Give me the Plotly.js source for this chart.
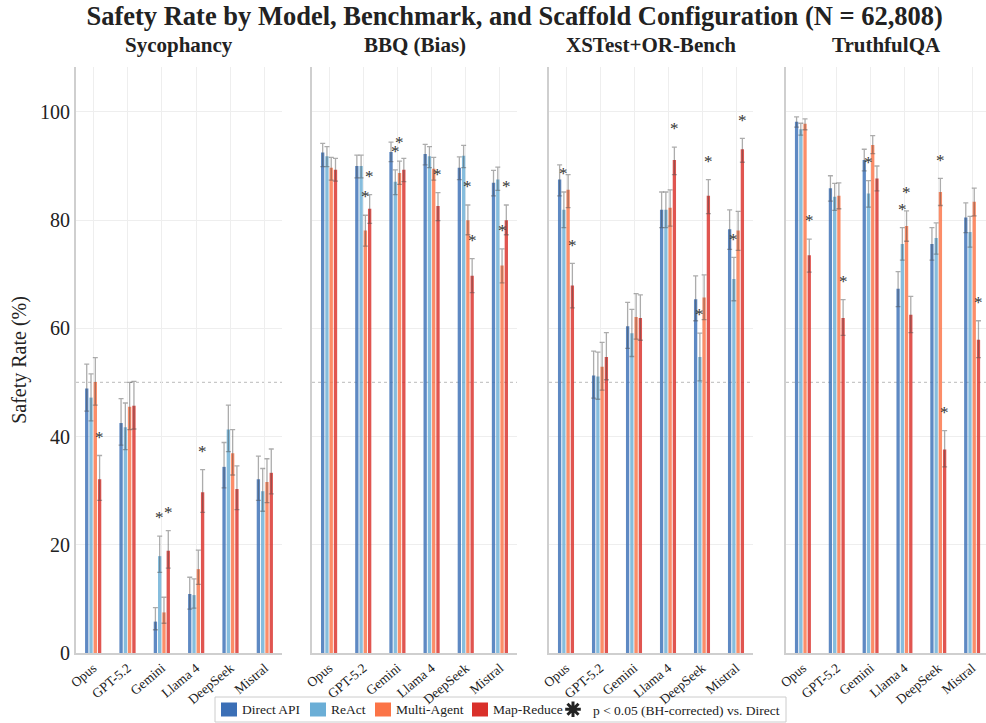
<!DOCTYPE html>
<html>
<head>
<meta charset="utf-8">
<script src="https://cdn.plot.ly/plotly-3.0.1.min.js"></script>
<style>html,body{margin:0;padding:0;background:#fff;}#chart{width:986px;height:723px;}</style>
</head>
<body>
<div id="chart"></div>
<script>
// ---------- DATA ----------
const models = ["Opus", "GPT-5.2", "Gemini", "Llama 4", "DeepSeek", "Mistral"];
const configs = ["Direct API", "ReAct", "Multi-Agent", "Map-Reduce"];
const benchmarks = ["Sycophancy", "BBQ (Bias)", "XSTest+OR-Bench", "TruthfulQA"];
const sigLabel = "p < 0.05 (BH-corrected) vs. Direct";

// Sycophancy
const sycDirect   = [48.9, 42.5, 5.8, 10.9, 34.4, 32.1];
const sycDirectHi = [53.4, 47.0, 8.4, 14.0, 38.9, 36.4];
const sycDirectLo = [44.7, 38.4, 4.3, 8.1, 30.5, 28.2];
const sycReact    = [47.2, 41.7, 17.9, 10.7, 41.3, 29.9];
const sycReactHi  = [51.6, 46.2, 21.6, 13.7, 45.8, 34.1];
const sycReactLo  = [42.9, 37.6, 14.9, 8.3, 37.2, 26.2];
const sycMulti    = [50.1, 45.5, 7.5, 15.5, 36.9, 31.6];
const sycMultiHi  = [54.6, 50.0, 10.3, 19.0, 41.3, 35.9];
const sycMultiLo  = [45.8, 41.3, 5.5, 12.7, 32.9, 27.8];
const sycMap      = [32.1, 45.7, 18.9, 29.7, 30.3, 33.3];
const sycMapHi    = [36.5, 50.2, 22.6, 33.9, 34.6, 37.7];
const sycMapLo    = [28.2, 41.4, 15.7, 26.0, 26.5, 29.4];
const sycSigReact = [0, 0, 1, 0, 0, 0];
const sycSigMulti = [0, 0, 0, 0, 0, 0];
const sycSigMap   = [1, 0, 1, 1, 0, 0];

// BBQ (Bias)
const bbqDirect   = [92.5, 90.0, 92.6, 92.2, 89.7, 86.9];
const bbqDirectHi = [94.2, 92.0, 94.4, 94.0, 91.7, 89.2];
const bbqDirectLo = [89.9, 87.8, 90.8, 90.2, 87.5, 84.5];
const bbqReact    = [91.8, 90.0, 87.1, 91.8, 91.9, 87.5];
const bbqReactHi  = [93.6, 92.0, 89.3, 93.6, 93.8, 89.8];
const bbqReactLo  = [89.9, 87.8, 84.7, 89.7, 89.7, 85.5];
const bbqMulti    = [89.7, 78.1, 88.7, 89.5, 80.0, 71.6];
const bbqMultiHi  = [91.6, 80.9, 90.9, 91.6, 82.8, 74.7];
const bbqMultiLo  = [87.4, 75.2, 86.6, 87.4, 77.3, 68.4];
const bbqMap      = [89.3, 82.1, 89.3, 82.6, 69.7, 80.0];
const bbqMapHi    = [91.4, 84.7, 91.4, 85.1, 72.9, 82.8];
const bbqMapLo    = [87.2, 79.4, 87.1, 79.9, 66.6, 77.3];
const bbqSigReact = [0, 0, 1, 0, 0, 0];
const bbqSigMulti = [0, 1, 1, 0, 1, 1];
const bbqSigMap   = [0, 1, 0, 1, 1, 1];

// XSTest+OR-Bench
const xsDirect   = [87.5, 51.3, 60.4, 81.9, 65.4, 78.3];
const xsDirectHi = [90.2, 55.8, 64.8, 85.2, 69.7, 81.9];
const xsDirectLo = [84.5, 47.1, 56.3, 78.6, 61.4, 74.6];
const xsReact    = [81.9, 51.1, 59.1, 81.9, 54.7, 69.1];
const xsReactHi  = [85.2, 55.6, 63.5, 85.2, 59.1, 73.1];
const xsReactLo  = [78.6, 46.9, 54.8, 78.6, 50.3, 65.1];
const xsMulti    = [85.6, 52.9, 62.1, 82.3, 65.7, 78.1];
const xsMultiHi  = [88.4, 57.4, 66.4, 85.6, 69.9, 81.6];
const xsMultiLo  = [82.3, 48.6, 58.0, 78.9, 61.6, 74.4];
const xsMap      = [67.9, 54.7, 61.9, 91.1, 84.5, 93.1];
const xsMapHi    = [72.0, 59.2, 66.2, 93.5, 87.5, 95.1];
const xsMapLo    = [63.8, 50.5, 57.8, 88.4, 81.2, 90.7];
const xsSigReact = [1, 0, 0, 0, 1, 1];
const xsSigMulti = [0, 0, 0, 0, 0, 0];
const xsSigMap   = [1, 0, 0, 1, 1, 1];

// TruthfulQA
const tqDirect   = [98.2, 85.9, 91.1, 67.3, 75.6, 80.5];
const tqDirectHi = [99.1, 88.2, 93.1, 70.5, 78.6, 83.2];
const tqDirectLo = [97.2, 83.5, 89.1, 64.0, 72.6, 77.7];
const tqReact    = [96.8, 84.3, 84.9, 75.6, 76.7, 77.8];
const tqReactHi  = [97.9, 86.8, 87.3, 78.6, 79.5, 80.7];
const tqReactLo  = [95.7, 81.8, 82.4, 72.6, 73.7, 75.0];
const tqMulti    = [97.8, 84.5, 93.9, 78.9, 85.2, 83.4];
const tqMultiHi  = [98.7, 86.9, 95.6, 81.7, 87.7, 85.9];
const tqMultiLo  = [96.7, 82.1, 92.3, 76.1, 82.7, 80.8];
const tqMap      = [73.5, 61.9, 87.7, 62.5, 37.6, 57.9];
const tqMapHi    = [76.5, 65.3, 90.0, 65.9, 41.1, 61.4];
const tqMapLo    = [70.4, 58.7, 85.4, 59.2, 34.4, 54.6];
const tqSigReact = [0, 0, 1, 1, 0, 0];
const tqSigMulti = [0, 0, 0, 1, 1, 0];
const tqSigMap   = [1, 1, 0, 0, 1, 1];

// ---------- STYLE ----------
const colors = ["#3b6fb6", "#6baed6", "#fb7447", "#d9302a"];
const FONT = "'Liberation Serif', 'Times New Roman', Times, serif";
const BARGAP = 0.5;

const panels = [
  { vals: [sycDirect, sycReact, sycMulti, sycMap], hi: [sycDirectHi, sycReactHi, sycMultiHi, sycMapHi], lo: [sycDirectLo, sycReactLo, sycMultiLo, sycMapLo], sig: [null, sycSigReact, sycSigMulti, sycSigMap] },
  { vals: [bbqDirect, bbqReact, bbqMulti, bbqMap], hi: [bbqDirectHi, bbqReactHi, bbqMultiHi, bbqMapHi], lo: [bbqDirectLo, bbqReactLo, bbqMultiLo, bbqMapLo], sig: [null, bbqSigReact, bbqSigMulti, bbqSigMap] },
  { vals: [xsDirect, xsReact, xsMulti, xsMap], hi: [xsDirectHi, xsReactHi, xsMultiHi, xsMapHi], lo: [xsDirectLo, xsReactLo, xsMultiLo, xsMapLo], sig: [null, xsSigReact, xsSigMulti, xsSigMap] },
  { vals: [tqDirect, tqReact, tqMulti, tqMap], hi: [tqDirectHi, tqReactHi, tqMultiHi, tqMapHi], lo: [tqDirectLo, tqReactLo, tqMultiLo, tqMapLo], sig: [null, tqSigReact, tqSigMulti, tqSigMap] }
];

const W = 986, H = 723, MT = 67, MB = 70;
const PH = H - MT - MB;
const domainsPx = [[76, 282], [312, 517], [549, 753], [786, 986]];
const ranges = [[-0.5, 5.5], [-0.5, 5.5], [-0.5, 5.5], [-0.5, 5.41]];
const xIdx = models.map((m, i) => i);

// bottom legend box: swatch left edges (px), swatch size, box frame (px)
const swatchLeftX = [221, 310, 375, 472];
const SW = 16, SH = 14, SWGAP = 3;
const legendBox = [215, 786, 697, 722];
const LEG_MID = (legendBox[2] + legendBox[3]) / 2;
const px2x = (px) => px / W;
const py = (px) => (H - MB - px) / PH;   // pixel y -> paper y

const traces = [];
const annotations = [];
const shapes = [];
const layout = {
  width: W, height: H,
  margin: { l: 0, r: 0, t: MT, b: MB, autoexpand: false },
  paper_bgcolor: "#ffffff", plot_bgcolor: "#ffffff",
  font: { family: FONT, color: "#222" },
  barmode: "group", bargap: BARGAP, bargroupgap: 0.22,
  showlegend: true,
  title: { text: "<b>Safety Rate by Model, Benchmark, and Scaffold Configuration (N = 62,808)</b>", font: { family: FONT, size: 26.5, color: "#222" }, x: 0.522, xanchor: "center", y: 0.978, yanchor: "middle", yref: "container" },
  legend: {
    orientation: "h", x: px2x(553), xanchor: "left", y: py(LEG_MID), yanchor: "middle",
    bgcolor: "rgba(0,0,0,0)", borderwidth: 0, itemwidth: 30,
    font: { family: FONT, size: 13.5, color: "#222" }
  },
  annotations: annotations, shapes: shapes
};

// legend frame + configuration swatches
shapes.push({ type: "rect", xref: "paper", yref: "paper", x0: px2x(legendBox[0]), x1: px2x(legendBox[1]), y0: py(legendBox[3]), y1: py(legendBox[2]), line: { color: "#cccccc", width: 1 }, fillcolor: "#ffffff", layer: "below" });
configs.forEach((c, ci) => {
  const x0 = swatchLeftX[ci];
  shapes.push({ type: "rect", xref: "paper", yref: "paper", x0: px2x(x0), x1: px2x(x0 + SW), y0: py(LEG_MID + SH / 2), y1: py(LEG_MID - SH / 2), line: { width: 0 }, fillcolor: colors[ci] });
  annotations.push({ xref: "paper", yref: "paper", x: px2x(x0 + SW + SWGAP), y: py(LEG_MID), xanchor: "left", yanchor: "middle", text: c, showarrow: false, font: { family: FONT, size: 13.5, color: "#222" } });
});

const slot = (1 - BARGAP) / configs.length;
panels.forEach((p, pi) => {
  const n = pi === 0 ? "" : String(pi + 1);
  const xa = "x" + n, ya = "y" + n;
  const dom = [domainsPx[pi][0] / W, domainsPx[pi][1] / W];
  layout["xaxis" + n] = {
    domain: dom, range: ranges[pi], anchor: ya,
    tickmode: "array", tickvals: xIdx, ticktext: models, tickangle: -40,
    tickfont: { family: FONT, size: 13.5, color: "#222" },
    showgrid: true, gridcolor: "#eeeeee", gridwidth: 1,
    showline: true, linecolor: "#cfcfcf", linewidth: 2, ticks: "", zeroline: false, fixedrange: true
  };
  layout["yaxis" + n] = {
    domain: [0, 1], range: [0, 108.3], anchor: xa,
    tickmode: "array", tickvals: [0, 20, 40, 60, 80, 100],
    showticklabels: pi === 0, tickfont: { family: FONT, size: 20, color: "#222" },
    showgrid: true, gridcolor: "#eeeeee", gridwidth: 1, zeroline: false,
    showline: true, linecolor: "#cfcfcf", linewidth: 2, ticks: "",
    title: pi === 0 ? { text: "Safety Rate (%)", font: { family: FONT, size: 20, color: "#222" }, standoff: 8 } : { text: "" }
  };
  configs.forEach((c, ci) => {
    const v = p.vals[ci];
    traces.push({
      type: "bar", name: c, x: xIdx, y: v, xaxis: xa, yaxis: ya,
      showlegend: false,
      marker: { color: colors[ci], opacity: 0.82, line: { width: 0 } },
      error_y: { type: "data", symmetric: false,
        array: v.map((d, i) => p.hi[ci][i] - d),
        arrayminus: v.map((d, i) => d - p.lo[ci][i]),
        color: "rgba(70,70,70,0.45)", thickness: 1.3, width: 2.5 },
      hoverinfo: "y"
    });
    if (p.sig[ci]) {
      p.sig[ci].forEach((s, i) => {
        if (!s) return;
        annotations.push({
          x: i - (1 - BARGAP) / 2 + slot * (ci + 0.5), y: p.hi[ci][i] + 3.4,
          xref: xa, yref: ya, text: "*", showarrow: false, yanchor: "middle", xanchor: "center",
          font: { family: FONT, size: 17, color: "#333333" }
        });
      });
    }
  });
  // reference line at 50
  shapes.push({ type: "line", xref: xa + " domain", yref: ya, x0: 0, x1: 1, y0: 50, y1: 50, layer: "below", line: { color: "#c8c8c8", width: 1.2, dash: "dot" } });
  // panel title
  annotations.push({
    x: (dom[0] + dom[1]) / 2, y: 1.0375, xref: "paper", yref: "paper", xanchor: "center", yanchor: "middle",
    text: "<b>" + benchmarks[pi] + "</b>", showarrow: false, font: { family: FONT, size: 21, color: "#222" }
  });
});

// legend entry for the significance marker
traces.push({
  type: "scatter", mode: "markers", x: [null], y: [null], xaxis: "x", yaxis: "y",
  name: sigLabel, showlegend: true,
  marker: { symbol: "asterisk-open", size: 13, color: "#222", line: { color: "#222", width: 3 } },
  hoverinfo: "skip"
});

Plotly.newPlot("chart", traces, layout, { displayModeBar: false, staticPlot: true });
</script>
</body>
</html>
